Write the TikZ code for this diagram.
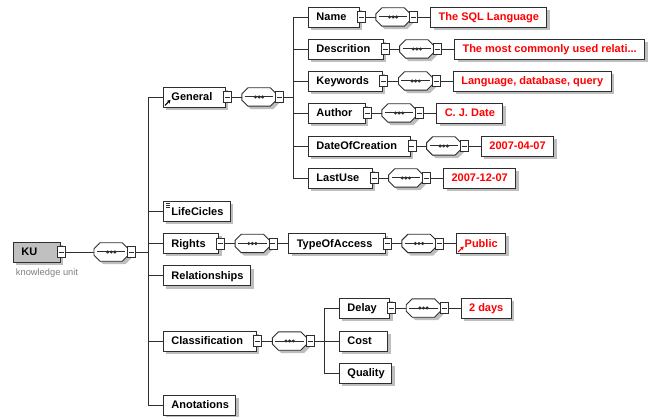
\documentclass[tikz,border=0pt]{standalone}
\usepackage{fontspec}
\setmainfont{Liberation Sans}
\usetikzlibrary{calc,shadows,arrows.meta}
\definecolor{boxline}{HTML}{2E2E2E}
\definecolor{valred}{HTML}{FF0000}
\definecolor{shad}{HTML}{BEBEBE}
\definecolor{kufill}{HTML}{C0C0C0}
\definecolor{lblgray}{HTML}{808080}
\tikzset{
  base/.style={draw=boxline, line width=0.9pt, fill=white, rectangle, inner xsep=0pt, inner ysep=0pt,
    minimum height=20pt, text height=9.5pt, text depth=2pt,
    font=\fontsize{11}{13}\selectfont\bfseries,
    general shadow={fill=shad, shadow xshift=3pt, shadow yshift=-3pt}, anchor=west},
  elem/.style={base},
  val/.style={base, text=valred},
  minusbox/.style={draw=boxline, fill=white, line width=0.8pt, minimum width=8pt, minimum height=11pt,
    inner sep=0pt, anchor=west,
    path picture={\draw[boxline, line width=0.8pt] ([xshift=-2.5pt]path picture bounding box.center) -- ([xshift=2.5pt]path picture bounding box.center);}},
  seqnode/.style={minimum width=34pt, minimum height=18pt, inner sep=0pt, anchor=west},
  conn/.style={draw=boxline, line width=0.9pt},
  octline/.style={draw=boxline, line width=0.9pt, fill=white},
  icon/.style={line width=1.1pt, -{Stealth[length=3.5pt,width=4pt]}},
}
\newcommand\oct[4]{\path[#4] ($(#1.north west)+(6+#2,#3)$) -- ($(#1.north east)+(-6+#2,#3)$)
  -- ($(#1.north east)+(#2,6+#3)$) -- ($(#1.south east)+(#2,-6+#3)$)
  -- ($(#1.south east)+(-6+#2,#3)$) -- ($(#1.south west)+(6+#2,#3)$)
  -- ($(#1.south west)+(#2,-6+#3)$) -- ($(#1.north west)+(#2,6+#3)$) -- cycle;}
\newcommand\seqat[2]{%
  \node[seqnode] (#1) at #2 {};
  \oct{#1}{3}{3}{fill=shad}
  \oct{#1}{0}{0}{octline}
  \draw[boxline, line width=1pt] ($(#1.west)+(3,0)$) -- ($(#1.east)+(-3,0)$);
  \foreach \d in {-3.6,0,3.6} \fill[boxline] ($(#1.center)+(\d,0)$) circle (1.7pt);
  \node[minusbox] (#1m) at ($(#1.east)+(-1,0)$) {};
}
\newcommand\elemm[3]{%
  \node[elem] (#1) at #2 {\kern8pt #3\kern13pt};
  \node[minusbox] (#1m) at ($(#1.east)+(-3,0)$) {};
}
\newcommand\valrow[4]{%
  \elemm{#1}{#2}{#3}
  \seqat{#1s}{($(#1.east)+(16,0)$)}
  \node[val] (#1v) at ($(#1s.east)+(20,0)$) {\kern8pt #4\kern8pt};
  \draw[conn] (#1m.east) -- (#1s.west);
  \draw[conn] (#1sm.east) -- (#1v.west);
}
\begin{document}
\begin{tikzpicture}[x=1pt,y=-1pt]
\useasboundingbox (0,0) rectangle (654,417);
\fill[white] (0,0) rectangle (654,417);

% root
\node[base, fill=kufill] (ku) at (13,252) {\kern8pt KU\kern23pt};
\node[minusbox] (kum) at ($(ku.east)+(-4,0)$) {};
\node[font=\fontsize{9.3}{11}\selectfont, text=lblgray, inner sep=0pt] (kulbl) at (47,273) {knowledge unit};
\seqat{kus}{(94,252)}
\coordinate (mt) at (148,252);
\draw[conn] (kum.east) -- (kus.west);
\draw[conn] (kusm.east) -- (mt);

% main children
\elemm{gen}{(163,97)}{General}
\seqat{gens}{($(gen.east)+(16,0)$)}
\draw[conn] (genm.east) -- (gens.west);
\coordinate (gt) at (293,97);
\draw[conn] (gensm.east) -- (gt);
\draw[icon] ($(gen.south west)+(2,-2)$) -- ++(5.5,-5.5);

\node[elem] (lc) at (163,211.5) {\kern8pt LifeCicles\kern7pt};
\foreach \i in {0,1,2} \draw[boxline, line width=0.6pt] ($(lc.north west)+(2.5,2.5+1.7*\i)$) -- ++(4.5,0);

\elemm{rig}{(163,243.5)}{Rights}
\seqat{rigs}{($(rig.east)+(16,0)$)}
\draw[conn] (rigm.east) -- (rigs.west);
\elemm{toa}{($(rigsm.east)+(11,0)$)}{TypeOfAccess}
\draw[conn] (rigsm.east) -- (toa.west);
\seqat{toas}{($(toa.east)+(16,0)$)}
\draw[conn] (toam.east) -- (toas.west);
\node[val] (pub) at ($(toas.east)+(20,0)$) {\kern8pt Public\kern8pt};
\draw[conn] (toasm.east) -- (pub.west);
\draw[icon, valred] ($(pub.south west)+(2,-2)$) -- ++(5.5,-5.5);

\node[elem] (rel) at (163,275.5) {\kern8pt Relationships\kern7pt};

\elemm{cla}{(163,341)}{Classification}
\seqat{clas}{($(cla.east)+(16,0)$)}
\draw[conn] (clam.east) -- (clas.west);
\coordinate (ct) at (324,341);
\draw[conn] (clasm.east) -- (ct);

\node[elem] (ano) at (163,405) {\kern8pt Anotations\kern7pt};

% main trunk
\draw[conn] (mt |- gen.west) -- (mt |- ano.west);
\foreach \n in {gen,lc,rig,rel,cla,ano} \draw[conn] (mt |- \n.west) -- (\n.west);

% General children
\valrow{nam}{(308,17)}{Name}{The SQL Language}
\valrow{des}{(308,49)}{Descrition}{The most commonly used relati...}
\valrow{key}{(308,81)}{Keywords}{Language, database, query}
\valrow{aut}{(308,113)}{Author}{C. J. Date}
\valrow{doc}{(308,146)}{DateOfCreation}{2007-04-07}
\valrow{lu}{(308,178)}{LastUse}{2007-12-07}
\draw[conn] (gt |- nam.west) -- (gt |- lu.west);
\foreach \n in {nam,des,key,aut,doc,lu} \draw[conn] (gt |- \n.west) -- (\n.west);

% Classification children
\valrow{del}{(339,308)}{Delay}{2 days}
\node[elem] (cost) at (339,341) {\kern8pt Cost\kern16pt};
\node[elem] (qual) at (339,373) {\kern8pt Quality\kern7pt};
\draw[conn] (ct |- del.west) -- (ct |- qual.west);
\foreach \n in {del,cost,qual} \draw[conn] (ct |- \n.west) -- (\n.west);
\end{tikzpicture}
\end{document}
